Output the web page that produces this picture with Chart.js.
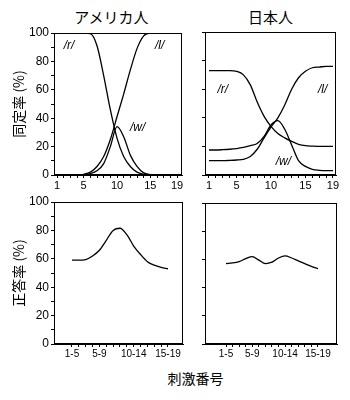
<!DOCTYPE html>
<html>
<head>
<meta charset="utf-8">
<script src="https://cdn.jsdelivr.net/npm/chart.js@4.4.0/dist/chart.umd.min.js"></script>
<style>
body { margin: 0; background: #fff; width: 350px; height: 400px; position: relative; overflow: hidden; }
.panel { position: absolute; }
.ttl { position: absolute; color: #000; text-align: center; font-family: "Noto Sans CJK JP", sans-serif; font-size: 15px; line-height: 20px; }
</style>
</head>
<body>
<div class="ttl" style="left:48px;width:127px;top:7px">アメリカ人</div>
<div class="ttl" style="left:205px;width:131px;top:7px">日本人</div>
<div class="panel" style="left:0;top:0"><canvas id="usIdChart" width="190" height="195"></canvas></div>
<div class="panel" style="left:190px;top:0"><canvas id="jpIdChart" width="160" height="195"></canvas></div>
<div class="panel" style="left:0;top:195px"><canvas id="usCorrectChart" width="190" height="165"></canvas></div>
<div class="panel" style="left:190px;top:195px"><canvas id="jpCorrectChart" width="160" height="165"></canvas></div>
<div class="ttl" style="left:54px;width:283px;top:368px;font-size:14px">刺激番号</div>
<script>
// stimulus numbers 1..19 (identification task)
const stimuli = [1, 2, 3, 4, 5, 6, 7, 8, 9, 10, 11, 12, 13, 14, 15, 16, 17, 18, 19];
const stimTickLabels = [1, 5, 10, 15, 19];

// identification rate (%) - American listeners
const usR = [100, 100, 100, 100, 100, 99.5, 91, 70, 46, 26, 13, 6, 2, 0.5, 0, 0, 0, 0, 0];
const usL = [0, 0, 0, 0, 0.5, 2, 6, 13, 25, 41, 57, 74, 89, 98, 100, 100, 100, 100, 100];
const usW = [0, 0, 0, 0, 0.3, 1, 3, 8, 20, 34, 27, 14, 6, 1.5, 0.3, 0, 0, 0, 0];

// identification rate (%) - Japanese listeners
const jpR = [73, 73, 73, 73, 72.5, 70, 63, 51, 41, 34, 29, 26, 23.5, 21.5, 20.5, 20.2, 20, 20, 20];
const jpL = [10, 10, 10, 10.2, 10.5, 11, 13, 18, 26, 33.5, 40, 49, 60, 68, 72.5, 75, 75.5, 76, 76];
const jpW = [17.5, 17.5, 17.7, 18, 18.5, 19.3, 20.5, 22, 27, 35, 38, 32, 21, 10, 6, 4, 3.3, 3, 3];

// curve names and where they are written (stimulus, %)
const tagNames = ['/r/', '/l/', '/w/'];
const usTagAt = [[2.8, 91], [16.4, 91], [13.1, 33.5]];
const jpTagAt = [[3, 60], [17.5, 60], [11.8, 9]];

// discrimination: stimulus windows
const windows = ['1-5', '2-6', '3-7', '4-8', '5-9', '6-10', '7-11', '8-12', '9-13', '10-14', '11-15', '12-16', '13-17', '14-18', '15-19'];
const windowTickLabels = ['1-5', '5-9', '10-14', '15-19'];

// correct rate (%)
const usCorrect = [59, 59, 59.5, 62, 66, 73, 80, 81.5, 77, 69, 63, 58, 55.5, 54, 53];
const jpCorrect = [57, 57.5, 58.5, 60.5, 62, 59.5, 57, 58, 61, 62.5, 61, 59, 57, 55, 53.5];

const framePlugin = {
    id: 'frame',
    afterDraw(chart) {
        const a = chart.chartArea;
        const ctx = chart.ctx;
        ctx.save();
        ctx.strokeStyle = '#000';
        ctx.lineWidth = 1;
        ctx.strokeRect(Math.round(a.left) + 0.5, Math.round(a.top) + 0.5,
            Math.round(a.right - a.left) - 1, Math.round(a.bottom - a.top) - 1);
        ctx.restore();
    }
};

const tagPlugin = {
    id: 'tags',
    afterDatasetsDraw(chart, args, opts) {
        if (!opts.at) return;
        const ctx = chart.ctx;
        ctx.save();
        ctx.fillStyle = '#000';
        ctx.font = 'italic 12px "Liberation Sans"';
        ctx.textAlign = 'center';
        ctx.textBaseline = 'middle';
        opts.at.forEach((p, i) => {
            ctx.fillText(tagNames[i], chart.scales.x.getPixelForValue(p[0]), chart.scales.y.getPixelForValue(p[1]));
        });
        ctx.restore();
    }
};

function curve(xs, ys) {
    return {
        data: ys.map((y, i) => ({ x: xs[i], y: y })),
        borderColor: '#000',
        borderWidth: 1.3,
        pointRadius: 0,
        fill: false,
        cubicInterpolationMode: 'monotone'
    };
}

function yAxis(width, labelled, title) {
    return {
        min: 0,
        max: 100,
        afterBuildTicks: s => {
            const step = labelled ? 10 : 20;
            const t = [];
            for (let v = 0; v <= 100; v += step) t.push({ value: v });
            s.ticks = t;
        },
        ticks: {
            autoSkip: false,
            padding: 2,
            color: '#000',
            font: { family: 'Liberation Sans', size: 12 },
            callback: v => (labelled && v % 20 === 0) ? v : ''
        },
        grid: { drawOnChartArea: false, drawTicks: true, tickLength: 3, color: '#000' },
        border: { color: '#000', width: 1 },
        title: title ? {
            display: true,
            text: title,
            color: '#000',
            font: { family: 'Noto Sans CJK JP', size: 14 },
            padding: { top: 10, bottom: 0 }
        } : { display: false },
        afterFit: s => { s.width = width; s.paddingTop = 0; s.paddingBottom = 0; }
    };
}

function xAxis(min, max, values, label, height, fontSize) {
    return {
        type: 'linear',
        min: min,
        max: max,
        afterBuildTicks: s => { s.ticks = values.map(v => ({ value: v })); },
        ticks: {
            autoSkip: false,
            maxRotation: 0,
            padding: 1,
            color: '#000',
            font: { family: 'Liberation Sans', size: fontSize },
            callback: v => label(v)
        },
        grid: { drawOnChartArea: false, drawTicks: true, tickLength: 3, color: '#000' },
        border: { color: '#000', width: 1 },
        afterFit: s => { s.height = height; s.paddingLeft = 0; s.paddingRight = 0; }
    };
}

function makeChart(id, datasets, xScale, yScale, padding, tagAt) {
    new Chart(document.getElementById(id).getContext('2d'), {
        type: 'line',
        data: { datasets: datasets },
        options: {
            responsive: false,
            animation: false,
            layout: { padding: padding },
            plugins: { legend: { display: false }, tooltip: { enabled: false }, tags: { at: tagAt } },
            scales: { x: xScale, y: yScale }
        },
        plugins: [framePlugin, tagPlugin]
    });
}

const stimLabel = v => stimTickLabels.includes(v) ? String(v) : '';
const windowIdx = windows.map((w, i) => i);
const windowLabel = v => windowTickLabels.includes(windows[v]) ? windows[v] : '';

makeChart('usIdChart',
    [curve(stimuli, usR), curve(stimuli, usL), curve(stimuli, usW)],
    xAxis(0.55, 19.75, stimuli, stimLabel, 20, 11),
    yAxis(54, true, '同定率 (%)'),
    { top: 33, right: 8, left: 0, bottom: 0 }, usTagAt);

makeChart('jpIdChart',
    [curve(stimuli, jpR), curve(stimuli, jpL), curve(stimuli, jpW)],
    xAxis(0.42, 19.44, stimuli, stimLabel, 20, 11),
    yAxis(15, false, null),
    { top: 32, right: 14, left: 0, bottom: 0 }, jpTagAt);

makeChart('usCorrectChart',
    [curve(windowIdx, usCorrect)],
    xAxis(-2.62, 16.19, windowIdx, windowLabel, 16, 10),
    yAxis(54, true, '正答率 (%)'),
    { top: 7, right: 7, left: 0, bottom: 0 }, null);

makeChart('jpCorrectChart',
    [curve(windowIdx, jpCorrect)],
    xAxis(-3.2, 16.9, windowIdx, windowLabel, 16, 10),
    yAxis(15, false, null),
    { top: 8, right: 13, left: 0, bottom: 0 }, null);
</script>
</body>
</html>
